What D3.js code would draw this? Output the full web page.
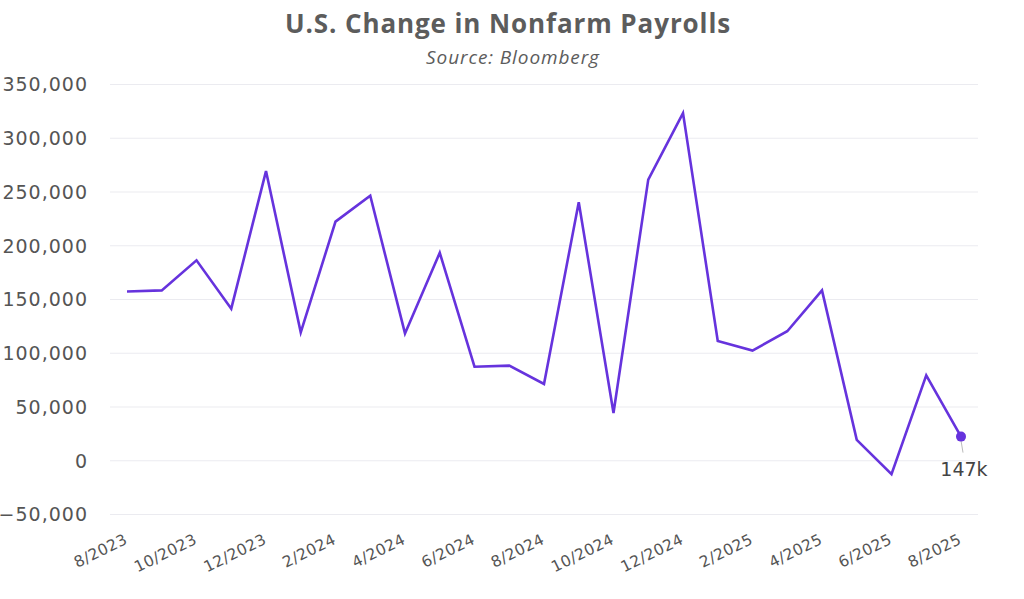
<!DOCTYPE html>
<html>
<head>
<meta charset="utf-8">
<script src="https://cdn.jsdelivr.net/npm/d3@7"></script>
<style>
  html, body { margin: 0; padding: 0; background: #ffffff; }
  svg { display: block; }
</style>
</head>
<body>
<svg id="chart" width="1024" height="599"></svg>
<script>
const months = ["8/2023","9/2023","10/2023","11/2023","12/2023","1/2024","2/2024","3/2024","4/2024","5/2024","6/2024","7/2024","8/2024","9/2024","10/2024","11/2024","12/2024","1/2025","2/2025","3/2025","4/2025","5/2025","6/2025","7/2025","8/2025"];
const payrolls = [157000,158000,186000,141000,269000,119000,222000,246000,118000,193000,87000,88000,71000,240000,44000,261000,323000,111000,102000,120000,158000,19000,-13000,79000,22000];
const yTicks = [-50000,0,50000,100000,150000,200000,250000,300000,350000];
const xTickLabels = ["8/2023","10/2023","12/2023","2/2024","4/2024","6/2024","8/2024","10/2024","12/2024","2/2025","4/2025","6/2025","8/2025"];
const lastLabel = "147k";
const titleText = "U.S. Change in Nonfarm Payrolls";
const subtitleText = "Source: Bloomberg";

const svg = d3.select("#chart");
const mLeft = 110, mRight = 978, mTop = 84, mBottom = 514;

const x = d3.scalePoint().domain(months).range([127, 961]);
const y = d3.scaleLinear().domain([-50000, 350000]).range([mBottom, mTop]);

svg.append("text")
  .attr("x", 508).attr("y", 32.5)
  .attr("text-anchor", "middle")
  .attr("font-family", "'Open Sans', sans-serif")
  .attr("font-weight", 700)
  .attr("font-size", 26)
  .attr("letter-spacing", "0.9px")
  .attr("fill", "#5c5c5c")
  .text(titleText);

svg.append("text")
  .attr("x", 513).attr("y", 64)
  .attr("text-anchor", "middle")
  .attr("font-family", "'Open Sans', sans-serif")
  .attr("font-style", "italic")
  .attr("font-size", 19)
  .attr("letter-spacing", "0.9px")
  .attr("fill", "#5c5c5c")
  .text(subtitleText);

// grid
const gy = svg.append("g").attr("class", "grid")
  .attr("transform", `translate(${mLeft},0)`)
  .call(d3.axisLeft(y).tickValues(yTicks).tickSize(-(mRight - mLeft)).tickFormat(""));
gy.select(".domain").remove();
gy.selectAll("line").attr("stroke", "#ebebf0").attr("stroke-width", 1.2);

// y labels
const ya = svg.append("g")
  .attr("transform", `translate(88,0)`)
  .call(d3.axisLeft(y).tickValues(yTicks).tickSize(0).tickPadding(0).tickFormat(d3.format(",")));
ya.select(".domain").remove();
ya.selectAll("text")
  .attr("font-family", "'DejaVu Sans', sans-serif")
  .attr("font-size", 19)
  .attr("letter-spacing", "1px")
  .attr("fill", "#555555")
  .attr("dy", "0.36em");

// x labels
const xa = svg.append("g")
  .attr("transform", `translate(1,543)`)
  .call(d3.axisBottom(x).tickValues(xTickLabels).tickSize(0).tickPadding(0));
xa.select(".domain").remove();
xa.selectAll("text")
  .attr("font-family", "'DejaVu Sans', sans-serif")
  .attr("font-size", 15.5)
  .attr("letter-spacing", "0.4px")
  .attr("fill", "#555555")
  .attr("text-anchor", "end")
  .attr("y", 0)
  .attr("dy", 0)
  .attr("transform", "rotate(-26)");

// line
const line = d3.line().x((d, i) => x(months[i])).y(d => y(d));
svg.append("path")
  .datum(payrolls)
  .attr("fill", "none")
  .attr("stroke", "#6633dd")
  .attr("stroke-width", 2.6)
  .attr("stroke-linejoin", "miter")
  .attr("d", line);

// last point
const lx = x(months[months.length - 1]);
const ly = y(payrolls[payrolls.length - 1]);
svg.append("line")
  .attr("x1", lx).attr("y1", ly + 4)
  .attr("x2", lx + 2).attr("y2", ly + 16)
  .attr("stroke", "#bbbbbb").attr("stroke-width", 1);
svg.append("circle")
  .attr("cx", lx).attr("cy", ly).attr("r", 5)
  .attr("fill", "#6633dd");
svg.append("text")
  .attr("x", lx + 3).attr("y", ly + 39)
  .attr("text-anchor", "middle")
  .attr("font-family", "'DejaVu Sans', sans-serif")
  .attr("font-size", 19)
  .attr("fill", "#444444")
  .text(lastLabel);
</script>
</body>
</html>
